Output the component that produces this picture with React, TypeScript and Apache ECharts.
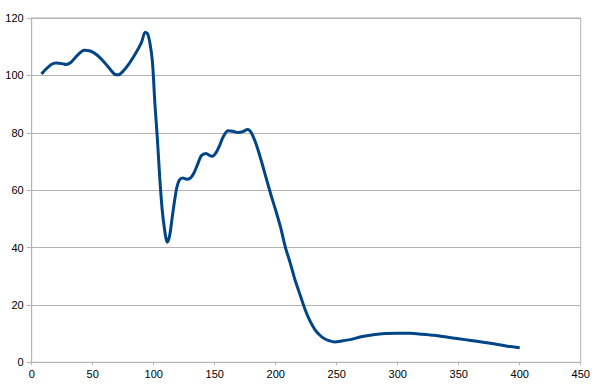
import React, { useEffect, useRef } from "react";
import * as echarts from "echarts";

const xValues = [8, 12, 16, 20, 25, 28, 32, 37, 43, 48, 53, 58, 63, 68, 71, 75, 80, 85, 90, 93, 95, 97, 99, 101, 103, 105, 107, 109, 111, 113, 115, 117, 119, 121, 124, 127, 130, 133, 136, 139, 143, 146, 148, 151, 154, 157, 161, 165, 169, 173, 177, 180, 184, 188, 192, 196, 200, 204, 208, 212, 216, 220, 224, 228, 232, 236, 240, 244, 248, 255, 262, 270, 280, 290, 300, 310, 320, 330, 340, 350, 360, 370, 380, 390, 400];
const yValues = [100.5, 102.3, 103.8, 104.3, 104.1, 103.8, 104.5, 106.8, 108.8, 108.5, 107.3, 105.3, 102.8, 100.4, 100.2, 101.5, 104.2, 107.5, 111.5, 115, 114.5, 111, 104.5, 90, 78, 64, 53, 46, 41.8, 44, 50, 56, 61, 63.5, 64.2, 63.8, 64.2, 66, 69, 72, 72.8, 72, 71.8, 73, 75.5, 78.6, 80.7, 80.5, 80.1, 80.4, 81.1, 80, 76, 70.5, 64.5, 58.5, 53, 47, 40, 34.5, 28.5, 23.5, 18.5, 14.5, 11.5, 9.5, 8.2, 7.5, 7.1, 7.5, 8.0, 8.9, 9.6, 10, 10.1, 10.1, 9.8, 9.4, 8.8, 8.2, 7.6, 7.0, 6.4, 5.6, 5.1];

const xMin = 0, xMax = 450, xStep = 50;
const yMin = 0, yMax = 120, yStep = 20;

export default function App() {
  const ref = useRef<HTMLDivElement>(null);
  useEffect(() => {
    if (!ref.current) return;
    const chart = echarts.init(ref.current, undefined, { renderer: "svg" });
    const labelStyle = { color: "#000", fontFamily: "Liberation Sans, Arial, sans-serif", fontSize: 11 };
    chart.setOption({
      animation: false,
      backgroundColor: "#ffffff",
      grid: {
        left: 31.7, right: 19.3, top: 18, bottom: 28.7,
        show: true, borderColor: "#b3b3b3", borderWidth: 1, backgroundColor: "transparent",
      },
      xAxis: {
        type: "value", min: xMin, max: xMax, interval: xStep,
        axisLine: { show: true, lineStyle: { color: "#b3b3b3" } },
        axisTick: { show: true, length: 3, lineStyle: { color: "#b3b3b3" } },
        axisLabel: { ...labelStyle, margin: 6 },
        splitLine: { show: false },
      },
      yAxis: {
        type: "value", min: yMin, max: yMax, interval: yStep,
        axisLine: { show: true, lineStyle: { color: "#b3b3b3" } },
        axisTick: { show: true, length: 5, lineStyle: { color: "#b3b3b3" } },
        axisLabel: { ...labelStyle, margin: 8 },
        splitLine: { show: true, lineStyle: { color: "#b3b3b3", width: 1 } },
      },
      series: [
        {
          type: "line",
          data: xValues.map((x, i) => [x, yValues[i]]),
          showSymbol: false,
          smooth: 0.3,
          lineStyle: { color: "#004586", width: 3 },
          itemStyle: { color: "#004586" },
        },
      ],
    });
    return () => chart.dispose();
  }, []);
  return <div ref={ref} style={{ width: 600, height: 391, position: "absolute", left: 0, top: 0 }} />;
}
